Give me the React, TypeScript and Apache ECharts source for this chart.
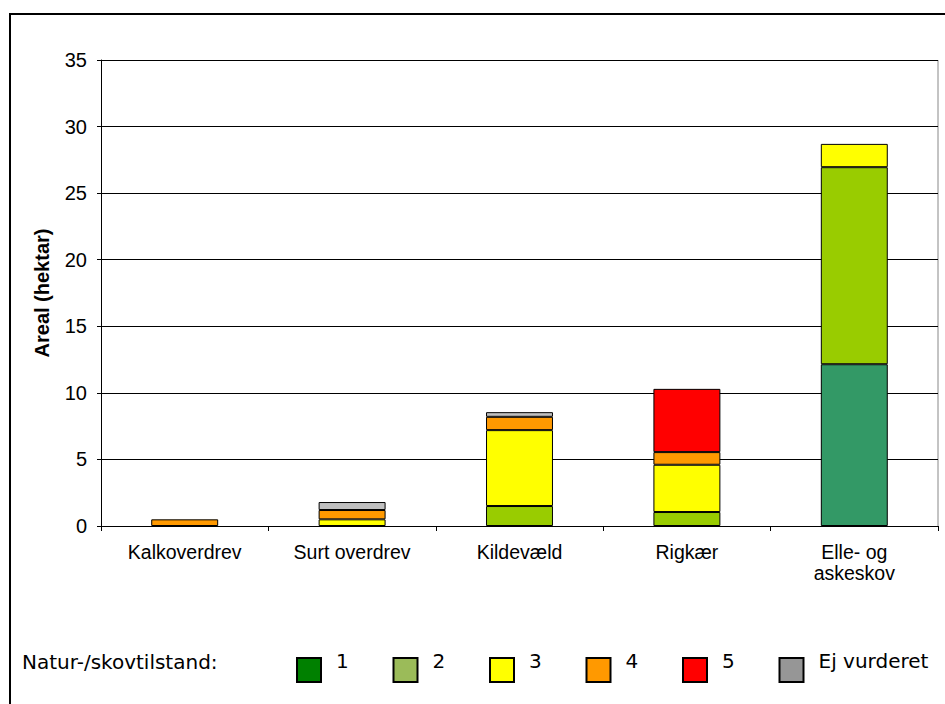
import React, { useEffect, useRef } from "react";
import * as echarts from "echarts";

const categories = ["Kalkoverdrev", "Surt overdrev", "Kildevæld", "Rigkær", "Elle- og\naskeskov"];
const seriesNames = ["1", "2", "3", "4", "5", "Ej vurderet"];
const tilstand1 = [null, null, null, null, 12.15];
const tilstand2 = [null, null, 1.5, 1.05, 14.8];
const tilstand3 = [null, 0.5, 5.7, 3.55, 1.75];
const tilstand4 = [0.5, 0.7, 1.0, 0.95, null];
const tilstand5 = [null, null, null, 4.75, null];
const ejVurderet = [null, 0.6, 0.35, null, null];
const seriesValues = [tilstand1, tilstand2, tilstand3, tilstand4, tilstand5, ejVurderet];
const barColors = ["#339966", "#99CC00", "#FFFF00", "#FF9900", "#FF0000", "#C0C0C0"];
const legendColors = ["#008000", "#9BBB59", "#FFFF00", "#FF9900", "#FF0000", "#969696"];
const legendTitle = "Natur-/skovtilstand:";
const yAxisTitle = "Areal (hektar)";

export default function App() {
  const ref = useRef<HTMLDivElement>(null);
  useEffect(() => {
    if (!ref.current) return;
    const chart = echarts.init(ref.current, undefined, { renderer: "svg" });
    const legendGraphics: any[] = [];
    seriesNames.forEach((name, i) => {
      const x0 = 297 + i * 96.5;
      legendGraphics.push({
        type: "rect",
        shape: { x: x0, y: 658, width: 24, height: 24 },
        style: { fill: legendColors[i], stroke: "#000", lineWidth: 2 },
      });
      legendGraphics.push({
        type: "text",
        x: x0 + 39,
        y: 661,
        style: {
          text: name,
          fill: "#000",
          font: "20px 'DejaVu Sans'",
          textVerticalAlign: "middle",
        },
      });
    });
    chart.setOption({
      animation: false,
      backgroundColor: "#fff",
      textStyle: { fontFamily: "'Liberation Sans', Arial, sans-serif" },
      grid: { left: 101, right: 7, top: 60, bottom: 178, containLabel: false },
      xAxis: {
        type: "category",
        data: categories,
        axisLine: { lineStyle: { color: "#000", width: 1 } },
        axisTick: { show: true, length: 5, lineStyle: { color: "#000" } },
        axisLabel: { color: "#000", fontSize: 19.5, margin: 15, lineHeight: 21 },
        splitLine: { show: false },
      },
      yAxis: {
        type: "value",
        min: 0,
        max: 35,
        interval: 5,
        name: yAxisTitle,
        nameLocation: "middle",
        nameRotate: 90,
        nameGap: 49,
        nameTextStyle: { color: "#000", fontSize: 20, fontWeight: "bold" },
        axisLine: { show: true, lineStyle: { color: "#000", width: 1 } },
        axisTick: { show: true, length: 4, lineStyle: { color: "#000" } },
        axisLabel: { color: "#000", fontSize: 20, margin: 14 },
        splitLine: { show: true, lineStyle: { color: "#000", width: 1 } },
      },
      series: seriesNames.map((name, i) => ({
        name,
        type: "bar",
        stack: "total",
        barWidth: "40%",
        data: seriesValues[i],
        itemStyle: { color: barColors[i], borderColor: "#000", borderWidth: 1 },
      })),
      graphic: [
        {
          type: "polyline",
          shape: { points: [[10, 704], [10, 14], [945, 14]] },
          style: { stroke: "#000", lineWidth: 2, fill: "none" },
        },
        {
          type: "line",
          shape: { x1: 938, y1: 60, x2: 938, y2: 526 },
          style: { stroke: "#888", lineWidth: 1 },
        },
        {
          type: "text",
          x: 22,
          y: 662,
          style: {
            text: legendTitle,
            fill: "#000",
            font: "20px 'DejaVu Sans'",
            textVerticalAlign: "middle",
          },
        },
        ...legendGraphics,
      ],
    });
    return () => chart.dispose();
  }, []);
  return (
    <div
      ref={ref}
      style={{ position: "absolute", left: 0, top: 0, width: 945, height: 704 }}
    />
  );
}
